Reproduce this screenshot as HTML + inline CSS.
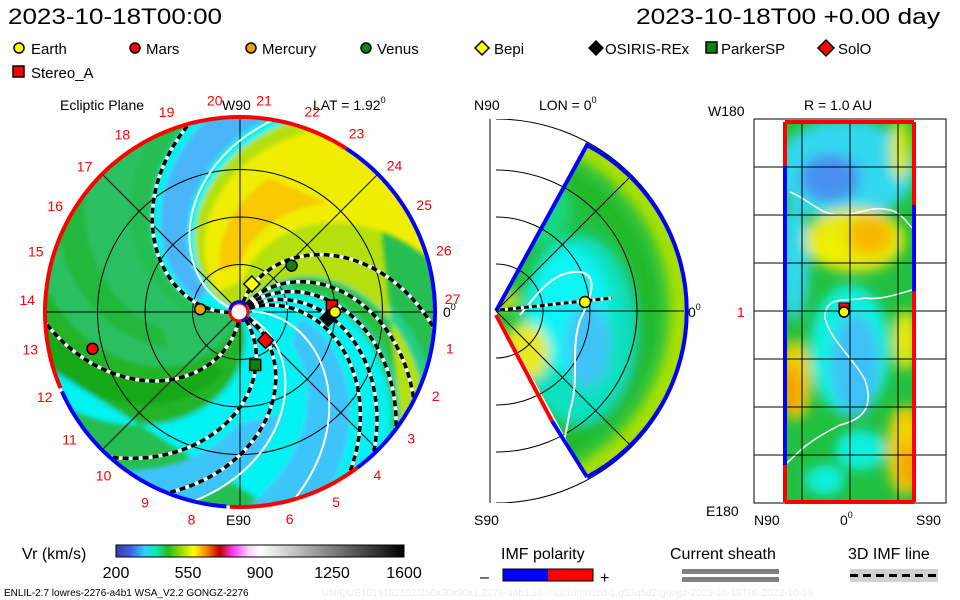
<!DOCTYPE html>
<html><head><meta charset="utf-8"><title>ENLIL</title>
<style>
html,body{margin:0;padding:0;background:#fff;}
svg{display:block;font-family:"Liberation Sans",sans-serif;}
</style></head>
<body>
<svg id="root" width="960" height="600" viewBox="0 0 960 600" xmlns="http://www.w3.org/2000/svg">
<defs>
  <clipPath id="diskClip"><circle cx="240" cy="312" r="194"/></clipPath>
  <clipPath id="wedgeClip"><path d="M496,311 L587,145 A188,188 0 0 1 587,477 Z"/></clipPath>
  <clipPath id="rectClip"><rect x="785" y="122" width="129" height="380"/></clipPath>
  <clipPath id="midFrame"><rect x="490" y="119" width="200" height="384"/></clipPath>
  <filter id="blur6" x="-20%" y="-20%" width="140%" height="140%"><feGaussianBlur stdDeviation="6"/></filter>
  <filter id="blur3" x="-20%" y="-20%" width="140%" height="140%"><feGaussianBlur stdDeviation="2.5"/></filter>
  <linearGradient id="cbar" x1="0" x2="1" y1="0" y2="0">
    <stop offset="0" stop-color="#3a3aa0"/>
    <stop offset="0.05" stop-color="#3a60f0"/>
    <stop offset="0.1" stop-color="#30d0ff"/>
    <stop offset="0.14" stop-color="#10e8b0"/>
    <stop offset="0.18" stop-color="#20c020"/>
    <stop offset="0.23" stop-color="#a0e000"/>
    <stop offset="0.27" stop-color="#ffff00"/>
    <stop offset="0.31" stop-color="#ff9000"/>
    <stop offset="0.36" stop-color="#c00000"/>
    <stop offset="0.41" stop-color="#ff40ff"/>
    <stop offset="0.46" stop-color="#ffd0ff"/>
    <stop offset="0.5" stop-color="#ffffff"/>
    <stop offset="1" stop-color="#000000"/>
  </linearGradient>
</defs>

<!-- headers -->
<text x="8" y="24" font-size="22" textLength="214" lengthAdjust="spacingAndGlyphs">2023-10-18T00:00</text>
<text x="636" y="24" font-size="22" textLength="304" lengthAdjust="spacingAndGlyphs">2023-10-18T00 +0.00 day</text>

<!-- legend -->
<g id="legend" font-size="15">
  <g><circle cx="19" cy="48" r="5" fill="#ffff00" stroke="#000" stroke-width="1.5"/><text x="31" y="54">Earth</text></g>
  <g><circle cx="135" cy="48" r="5" fill="#ff0000" stroke="#000" stroke-width="1.5"/><text x="146" y="54">Mars</text></g>
  <g><circle cx="251" cy="48" r="5" fill="#f0a000" stroke="#000" stroke-width="1.5"/><text x="262" y="54">Mercury</text></g>
  <g><circle cx="366" cy="48" r="5" fill="#108010" stroke="#000" stroke-width="1.5"/><text x="377" y="54">Venus</text></g>
  <g><path d="M482,41 L489,48 L482,55 L475,48Z" fill="#ffff00" stroke="#000" stroke-width="1.5"/><text x="494" y="54">Bepi</text></g>
  <g><path d="M596,40 L604,48 L596,56 L588,48Z" fill="#000"/><text x="605" y="54">OSIRIS-REx</text></g>
  <g><rect x="706" y="42" width="11" height="11" fill="#108010" stroke="#000" stroke-width="1.5"/><text x="721" y="54">ParkerSP</text></g>
  <g><path d="M826,40 L834,48 L826,56 L818,48Z" fill="#ff0000" stroke="#000" stroke-width="1.5"/><text x="838" y="54">SolO</text></g>
  <g><rect x="13" y="66" width="11" height="11" fill="#ff0000" stroke="#000" stroke-width="1.5"/><text x="31" y="78">Stereo_A</text></g>
</g>

<!-- left panel titles -->
<text x="60" y="110" font-size="14">Ecliptic Plane</text>
<text x="222" y="110" font-size="14">W90</text>
<text x="313" y="110" font-size="14">LAT = 1.92<tspan font-size="9" dy="-7">0</tspan></text>
<text x="226" y="525" font-size="14">E90</text>
<text x="443" y="317" font-size="14">0<tspan font-size="9" dy="-7">0</tspan></text>

<g id="leftPanel"></g>

<!-- middle panel -->
<text x="474" y="110" font-size="14">N90</text>
<text x="539" y="110" font-size="14">LON = 0<tspan font-size="9" dy="-7">0</tspan></text>
<text x="474" y="525" font-size="14">S90</text>
<text x="688" y="317" font-size="14">0<tspan font-size="9" dy="-7">0</tspan></text>
<g id="midPanel"></g>

<!-- right panel -->
<text x="804" y="110" font-size="14">R = 1.0 AU</text>
<text x="708" y="116" font-size="14">W180</text>
<text x="706" y="516" font-size="14">E180</text>
<text x="737" y="317" font-size="14" fill="#ff0000">1</text>
<text x="754" y="525" font-size="14">N90</text>
<text x="840" y="525" font-size="14">0<tspan font-size="9" dy="-7">0</tspan></text>
<text x="916" y="525" font-size="14">S90</text>
<g id="rightPanel"></g>

<!-- colorbar -->
<text x="22" y="559" font-size="16">Vr (km/s)</text>
<rect x="116" y="545" width="288" height="12" fill="url(#cbar)" stroke="#000"/>
<g id="cbarTicks" font-size="16" text-anchor="middle"></g>

<text x="501" y="559" font-size="16">IMF polarity</text>
<text x="480" y="582" font-size="16">–</text>
<rect x="503" y="569" width="45" height="12" fill="#0000ff"/>
<rect x="548" y="569" width="45" height="12" fill="#ff0000"/>
<rect x="503" y="569" width="90" height="12" fill="none" stroke="#000"/>
<text x="600" y="583" font-size="16">+</text>

<text x="670" y="559" font-size="16">Current sheath</text>
<rect x="682" y="569" width="97" height="5" fill="#808080"/>
<rect x="682" y="577" width="97" height="5" fill="#808080"/>

<text x="848" y="559" font-size="16">3D IMF line</text>
<rect x="850" y="569" width="88" height="13" fill="#d0d0d0"/>
<line x1="850" y1="575.5" x2="938" y2="575.5" stroke="#000" stroke-width="3" stroke-dasharray="8,5"/>

<text x="4" y="596" font-size="10">ENLIL-2.7 lowres-2276-a4b1 WSA_V2.2 GONGZ-2276</text>
<text x="322" y="596" font-size="10" fill="#ececec">UNIQUE1019152102/256x30x90x1.2276-a4b1.16-mcp1umn1cd-1.g53q5d2.gongz-2023-10-18T00    2023-10-19</text>

<script>
// ---- data ----
var cbarTicks = [200, 550, 900, 1250, 1600];
var bodyNames = ["Earth","Mars","Mercury","Venus","Bepi","OSIRIS-REx","ParkerSP","SolO","Stereo_A"];
var bodyR = [1.0, 1.6, 0.42, 0.73, 0.32, 0.93, 0.58, 0.40, 0.97];      // AU
var bodyAng = [0, 166, 184, -42, -67, 4, 74, 48, -4];                  // deg (screen, clockwise from +x)
var armStart = [-77, -55, -45, -35, -26, 30, 50, 95, 173];             // IMF line footpoint angles (deg)
var sheathStart = [-8, 22, 198];                                       // current sheath angles
var lonLabels = [0,1,2,3,4,5,6,8,9,10,11,12,13,14,15,16,17,18,19,20,21,22,23,24,25,26,27];

var NS = "http://www.w3.org/2000/svg";
var CX = 240, CY = 312, R = 194, AU = 95, K = 0.42;
function mk(tag, attrs, parent){
  var e = document.createElementNS(NS, tag);
  for (var k in attrs) e.setAttribute(k, attrs[k]);
  parent.appendChild(e);
  return e;
}
function pt(t0, r){ var a=(t0+K*r)*Math.PI/180; return [CX+r*Math.cos(a), CY+r*Math.sin(a)]; }
function band(t0a, t0b, r0, r1){
  var p=[], r;
  for (r=r0; r<=r1; r+=4) p.push(pt(t0a,r));
  for (r=r1; r>=r0; r-=4) p.push(pt(t0b,r));
  return "M"+p.map(function(q){return q[0].toFixed(1)+","+q[1].toFixed(1);}).join(" L")+"Z";
}
function spiral(t0, r0, r1){
  var p=[]; for (var r=r0; r<=r1; r+=3) p.push(pt(t0,r));
  return "M"+p.map(function(q){return q[0].toFixed(1)+","+q[1].toFixed(1);}).join(" L");
}
function arcPts(cx,cy,r,a1,a2){
  var p=[]; for (var a=a1; a<=a2+0.01; a+=2){ var t=a*Math.PI/180; p.push((cx+r*Math.cos(t)).toFixed(1)+","+(cy+r*Math.sin(t)).toFixed(1)); }
  return p.join(" ");
}

// ---- left panel ----
var L = document.getElementById("leftPanel");
var fillG = mk("g", {"clip-path":"url(#diskClip)"}, L);


mk("circle", {cx:CX, cy:CY, r:R, fill:"#26be50"}, fillG);
var inner = mk("g", {filter:"url(#blur3)"}, fillG);
var bands = [
  [105,160,"#2cc062",0,260],
  [120,135,"#22b83a",80,260],
  [70,105,"#20b428",0,260],
  [80,95,"#18a818",60,260],
  [-42,68,"#06f2f2",0,260],
  [-20,6,"#3ec4fa",60,260],
  [22,44,"#3ec4fa",110,260],
  [-66,-42,"#20d088",0,260],
  [-58,-48,"#2cc040",60,260],
  [-170,-60,"#b4e008",0,260],
  [-150,-98,"#f0ee00",30,260],
  [-135,-110,"#f8c800",45,140],
  [-188,-170,"#58c830",0,260],
  [172,202,"#06f2f2",0,260],
  [178,196,"#48b4f8",40,260]
];
bands.forEach(function(b){ mk("path", {d:band(b[0],b[1],b[3],b[4]), fill:b[2]}, inner); });

// grid
var grid = mk("g", {stroke:"#000", "stroke-width":"1", fill:"none"}, L);


[47.5, 95, 142.5].forEach(function(r){ mk("circle", {cx:CX, cy:CY, r:r}, grid); });
[0,45,90,135].forEach(function(a){
  var t=a*Math.PI/180, dx=R*Math.cos(t), dy=R*Math.sin(t);
  mk("line", {x1:CX-dx, y1:CY-dy, x2:CX+dx, y2:CY+dy}, grid);
});

// sheath lines & IMF arms
var lines = mk("g", {"clip-path":"url(#diskClip)", fill:"none"}, L);
sheathStart.forEach(function(t){
  var s = mk("path", {d:spiral(t,12,260), stroke:"#fff", "stroke-width":"2"}, lines);
  
  
});
armStart.forEach(function(t){
  var g = mk("g", {}, lines);
  
  
  mk("path", {d:spiral(t,10,260), stroke:"#fff", "stroke-width":"3.5"}, g);
  mk("path", {d:spiral(t,10,260), stroke:"#000", "stroke-width":"3.5", "stroke-dasharray":"6,4"}, g);
});

// boundary
var bnd = mk("g", {fill:"none", "stroke-width":"4"}, L);


mk("polyline", {points:arcPts(CX,CY,R+1,157,303), stroke:"#ff0000"}, bnd);
mk("polyline", {points:arcPts(CX,CY,R+1,303,413), stroke:"#0000ff"}, bnd);
mk("polyline", {points:arcPts(CX,CY,R+1,53,94), stroke:"#ff0000"}, bnd);
mk("polyline", {points:arcPts(CX,CY,R+1,94,157), stroke:"#0000ff"}, bnd);

// sun
var sun = mk("circle", {cx:CX-1, cy:CY, r:9, fill:"#fff", stroke:"#ff0000", "stroke-width":"3"}, L);


mk("path", {d:"M"+(CX-10)+","+(CY-2)+" A9,9 0 0 1 "+(CX+6)+","+(CY-7), stroke:"#0000ff", "stroke-width":"3", fill:"none"}, L);
mk("path", {d:"M"+(CX+7)+","+(CY+5)+" A9,9 0 0 1 "+(CX+2)+","+(CY+9), stroke:"#0000ff", "stroke-width":"3", fill:"none"}, L);

// longitude labels
var lab = mk("g", {fill:"#ff0000", "font-size":"14", "text-anchor":"middle"}, L);


lonLabels.forEach(function(n){
  if (n===0) return;
  var a=(n*360/27 - 3.5)*Math.PI/180;
  var t = mk("text", {x:(CX+213*Math.cos(a)).toFixed(1), y:(CY+213*Math.sin(a)+5).toFixed(1)}, lab);
  t.textContent = String(n);
});

// bodies
var styles = {
  "Earth":["circle","#ffff00"],"Mars":["circle","#ff0000"],"Mercury":["circle","#f0a000"],
  "Venus":["circle","#108010"],"Bepi":["diamond","#ffff00"],"OSIRIS-REx":["diamond","#000"],
  "ParkerSP":["square","#108010"],"SolO":["diamond","#ff0000"],"Stereo_A":["square","#ff0000"]
};
var drawOrder = [8,5,0,1,2,3,4,6,7];
drawOrder.forEach(function(i){
  var a=bodyAng[i]*Math.PI/180, x=CX+bodyR[i]*AU*Math.cos(a), y=CY+bodyR[i]*AU*Math.sin(a);
  var s=styles[bodyNames[i]], e;
  if (s[0]==="circle") e = mk("circle", {cx:x, cy:y, r:5.5, fill:s[1], stroke:"#000", "stroke-width":"1.5"}, L);
  else if (s[0]==="square") e = mk("rect", {x:x-5.5, y:y-5.5, width:11, height:11, fill:s[1], stroke:"#000", "stroke-width":"1.5"}, L);
  else e = mk("path", {d:"M"+x+","+(y-8)+" L"+(x+8)+","+y+" L"+x+","+(y+8)+" L"+(x-8)+","+y+"Z", fill:s[1], stroke:"#000", "stroke-width":"1.5"}, L);
  
  
});

// ---- middle panel ----
var M = document.getElementById("midPanel");
var MX=496, MY=311;
mk("line", {x1:490, y1:119, x2:490, y2:503, stroke:"#000"}, M);
var mf = mk("g", {"clip-path":"url(#wedgeClip)"}, M);


mk("rect", {x:480, y:130, width:220, height:360, fill:"#22c040"}, mf);
var mb = mk("g", {filter:"url(#blur6)"}, mf);
mk("circle", {cx:MX, cy:MY, r:186, fill:"none", stroke:"#a8e000", "stroke-width":"26"}, mb);
mk("circle", {cx:MX, cy:MY, r:150, fill:"none", stroke:"#22b822", "stroke-width":"18"}, mb);
mk("ellipse", {cx:578, cy:330, rx:58, ry:95, fill:"#10e0c0"}, mb);
mk("ellipse", {cx:570, cy:310, rx:40, ry:62, fill:"#10f4f4"}, mb);
mk("ellipse", {cx:588, cy:345, rx:22, ry:42, fill:"#40c4f8"}, mb);
mk("ellipse", {cx:525, cy:352, rx:24, ry:28, fill:"#e8e820"}, mb);
mk("ellipse", {cx:505, cy:300, rx:14, ry:10, fill:"#c8e000"}, mb);
mk("ellipse", {cx:540, cy:210, rx:30, ry:35, fill:"#18d880"}, mb);
var mg = mk("g", {stroke:"#000", fill:"none", "clip-path":"url(#midFrame)"}, M);


[47, 94, 141, 192].forEach(function(r){ mk("path", {d:"M"+MX+","+(MY-r)+" A"+r+","+r+" 0 0 1 "+MX+","+(MY+r)}, mg); });
mk("line", {x1:MX, y1:MY, x2:MX+188, y2:MY}, mg);
mk("line", {x1:MX, y1:MY, x2:MX+133, y2:MY-133}, mg);
mk("line", {x1:MX, y1:MY, x2:MX+133, y2:MY+133}, mg);
mk("path", {d:"M520,315 C540,290 555,270 580,272 C600,275 590,300 580,320 C570,350 580,380 570,410 C565,440 560,460 553,470", stroke:"#fff", "stroke-width":"2", fill:"none"}, M);
mk("line", {x1:500, y1:310, x2:612, y2:298, stroke:"#fff", "stroke-width":"3"}, M);
mk("line", {x1:500, y1:310, x2:612, y2:298, stroke:"#000", "stroke-width":"3", "stroke-dasharray":"5,3"}, M);
mk("path", {d:"M496,311 L587,145 A188,188 0 0 1 587,477", fill:"none", stroke:"#0000ff", "stroke-width":"4"}, M);
mk("line", {x1:496, y1:315, x2:552, y2:421, stroke:"#ff0000", "stroke-width":"4"}, M);
mk("line", {x1:552, y1:421, x2:587, y2:477, stroke:"#0000ff", "stroke-width":"4"}, M);
var me = mk("circle", {cx:585, cy:302, r:5.5, fill:"#ffff00", stroke:"#000", "stroke-width":"1.5"}, M);



// ---- right panel ----
var RP = document.getElementById("rightPanel");
mk("rect", {x:754, y:119, width:192, height:384, fill:"none", stroke:"#000"}, RP);
var rf = mk("g", {"clip-path":"url(#rectClip)"}, RP);


mk("rect", {x:785, y:122, width:129, height:380, fill:"#22c040"}, rf);
var rb = mk("g", {filter:"url(#blur6)"}, rf);
[
  [845,170,70,50,"#30d8f0"],[830,178,30,24,"#4890f0"],[795,260,14,60,"#30d8f0"],
  [855,240,50,32,"#e8e810"],[870,235,22,20,"#f8b800"],[830,250,18,15,"#f0f000"],
  [850,350,40,65,"#10f0e0"],[855,365,24,52,"#40c0f8"],[860,450,25,20,"#10f0e0"],
  [795,380,16,40,"#f0d000"],[792,390,8,24,"#f89800"],[905,450,18,45,"#f0d000"],
  [908,465,9,22,"#f8a000"],[905,340,12,30,"#e8e810"],[825,480,20,15,"#10f0e0"],
  [900,150,10,30,"#d8e800"]
].forEach(function(e){ mk("ellipse", {cx:e[0], cy:e[1], rx:e[2], ry:e[3], fill:e[4]}, rb); });
mk("path", {d:"M790,192 C810,200 820,215 840,215 C860,215 870,205 890,210 C900,212 905,220 912,228", stroke:"#fff", "stroke-width":"1.5", fill:"none"}, rf);
mk("path", {d:"M912,290 C895,295 880,300 865,298 C845,302 825,295 825,318 C830,340 855,360 865,380 C875,410 860,420 840,425 C810,440 800,450 785,465", stroke:"#fff", "stroke-width":"1.5", fill:"none"}, rf);
var rg = mk("g", {stroke:"#000"}, RP);


[167,215,263,311,359,407,455].forEach(function(y){ mk("line", {x1:754, y1:y, x2:946, y2:y}, rg); });
[802,850,898].forEach(function(x){ mk("line", {x1:x, y1:122, x2:x, y2:502}, rg); });
var rbd = mk("g", {"stroke-width":"4"}, RP);


mk("line", {x1:785, y1:122, x2:914, y2:122, stroke:"#ff0000"}, rbd);
mk("line", {x1:785, y1:502, x2:914, y2:502, stroke:"#ff0000"}, rbd);
mk("line", {x1:785, y1:122, x2:785, y2:166, stroke:"#ff0000"}, rbd);
mk("line", {x1:785, y1:166, x2:785, y2:465, stroke:"#0000ff"}, rbd);
mk("line", {x1:785, y1:465, x2:785, y2:502, stroke:"#ff0000"}, rbd);
mk("line", {x1:914, y1:122, x2:914, y2:205, stroke:"#ff0000"}, rbd);
mk("line", {x1:914, y1:205, x2:914, y2:291, stroke:"#0000ff"}, rbd);
mk("line", {x1:914, y1:291, x2:914, y2:502, stroke:"#ff0000"}, rbd);
var rs = mk("rect", {x:839, y:303, width:10, height:6, fill:"#ff0000", stroke:"#000"}, RP);


var re = mk("circle", {cx:844, cy:312, r:5, fill:"#ffff00", stroke:"#000", "stroke-width":"1.5"}, RP);



// ---- colorbar ticks ----
var CT = document.getElementById("cbarTicks");
var vmin = cbarTicks[0], vmax = cbarTicks[cbarTicks.length-1];
cbarTicks.forEach(function(v){
  var t = mk("text", {x:(116 + (v-vmin)/(vmax-vmin)*288).toFixed(1), y:578}, CT);
  
  
  t.textContent = String(v);
});
</script>
</svg>
</body></html>
